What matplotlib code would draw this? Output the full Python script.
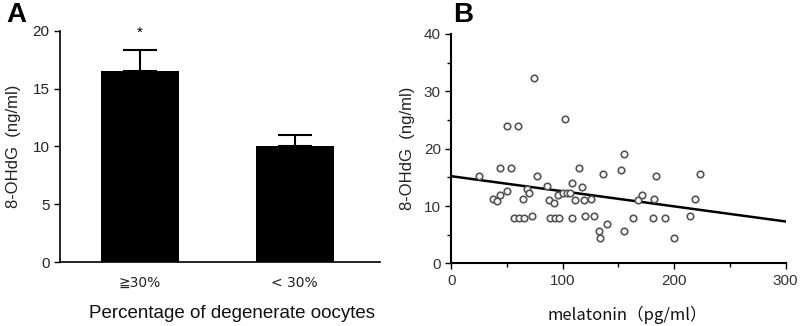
import matplotlib
matplotlib.use("Agg")
import matplotlib.pyplot as plt
import numpy as np

plt.rcParams['font.family'] = ['Liberation Sans', 'DejaVu Sans']

# Panel A data
groups = ['≧30%', '< 30%']
means = [16.55, 10.07]
sems = [1.78, 0.87]

# Panel B data
melatonin = [74.0, 50.4, 59.7, 102.1, 155.2, 25.1, 43.9, 53.4, 76.7, 114.9, 136.4, 152.2,
             183.9, 223.0, 86.3, 108.4, 117.3, 37.3, 40.9, 43.9, 49.9, 64.2, 68.4, 70.1,
             87.5, 92.5, 95.5, 100.0, 103.6, 106.6, 111.3, 119.1, 125.4, 167.8, 171.0,
             182.1, 219.1, 56.4, 61.2, 65.7, 72.2, 88.7, 93.1, 97.0, 108.4, 120.3, 128.1,
             163.3, 180.6, 191.6, 214.6, 139.7, 132.2, 133.1, 154.6, 200.0]
ohdg = [32.4, 24.0, 24.0, 25.2, 19.0, 15.3, 16.6, 16.6, 15.3, 16.6, 15.6, 16.3,
        15.3, 15.6, 13.5, 14.1, 13.3, 11.3, 10.8, 12.0, 12.6, 11.3, 12.9, 12.3,
        11.0, 10.5, 11.9, 12.3, 12.3, 12.3, 11.0, 11.0, 11.3, 11.0, 12.0,
        11.3, 11.3, 8.0, 8.0, 8.0, 8.3, 8.0, 8.0, 8.0, 8.0, 8.3, 8.3,
        8.0, 8.0, 8.0, 8.3, 6.8, 5.6, 4.4, 5.6, 4.4]
line_intercept = 15.2
line_slope = -0.0263

fig = plt.figure(figsize=(8, 3.26), dpi=100)

# ---- Panel A ----
axA = fig.add_axes([0.075, 0.196, 0.40, 0.710])
xpos = np.arange(len(groups))
axA.bar(xpos, means, width=0.5, color='black')
axA.errorbar(xpos, means, yerr=[np.zeros(len(sems)), sems], fmt='none',
             ecolor='black', elinewidth=1.5, capsize=12, capthick=1.5)
axA.text(xpos[0], means[0] + sems[0] + 0.9, '*', ha='center', va='bottom', fontsize=11)
axA.set_xlim(-0.516, 1.55)
axA.set_ylim(0, 20)
axA.set_yticks([0, 5, 10, 15, 20])
axA.set_xticks(xpos)
axA.set_xticklabels(groups, family=['DejaVu Sans'], fontsize=10, color='#222222')
axA.tick_params(axis='x', length=0, pad=10)
axA.tick_params(axis='y', length=4, width=1, labelsize=11, labelcolor='#222222')
for s in ['top', 'right']:
    axA.spines[s].set_visible(False)
for s in ['left', 'bottom']:
    axA.spines[s].set_linewidth(1.2)
axA.set_ylabel('8-OHdG  (ng/ml)', fontsize=12, labelpad=8, color='#222222')
fig.text(232 / 800, 1 - 313 / 326, 'Percentage of degenerate oocytes', fontsize=13.5,
         ha='center', va='center', color='#111111')

# ---- Panel B ----
axB = fig.add_axes([0.564, 0.192, 0.418, 0.704])
axB.scatter(melatonin, ohdg, s=22, facecolors='white', edgecolors='#555555', linewidths=1.2, zorder=3)
xl = np.array([0, 300])
axB.plot(xl, line_intercept + line_slope * xl, color='black', lw=1.8, zorder=2)
axB.set_xlim(0, 300)
axB.set_ylim(0, 40)
axB.set_xticks([0, 100, 200, 300])
axB.set_xticks([50, 150, 250], minor=True)
axB.set_yticks([0, 10, 20, 30, 40])
axB.set_yticks([5, 15, 25, 35], minor=True)
axB.tick_params(axis='both', which='major', length=4, width=1, labelsize=11, labelcolor='#333333')
axB.tick_params(axis='both', which='minor', length=3, width=1)
for s in ['top', 'right']:
    axB.spines[s].set_visible(False)
for s in ['left', 'bottom']:
    axB.spines[s].set_linewidth(1.5)
axB.set_ylabel('8-OHdG  (ng/ml)', fontsize=12, labelpad=6, color='#222222')
fig.text(627 / 800, 1 - 315 / 326, 'melatonin（pg/ml）', fontsize=12, ha='center', va='center',
         family=['Noto Sans CJK SC', 'DejaVu Sans'], color='#111111')

fig.text(0.008, 0.955, 'A', fontsize=20, fontweight='bold', va='center')
fig.text(0.566, 0.955, 'B', fontsize=20, fontweight='bold', va='center')

fig.savefig('out.png', dpi=100)
